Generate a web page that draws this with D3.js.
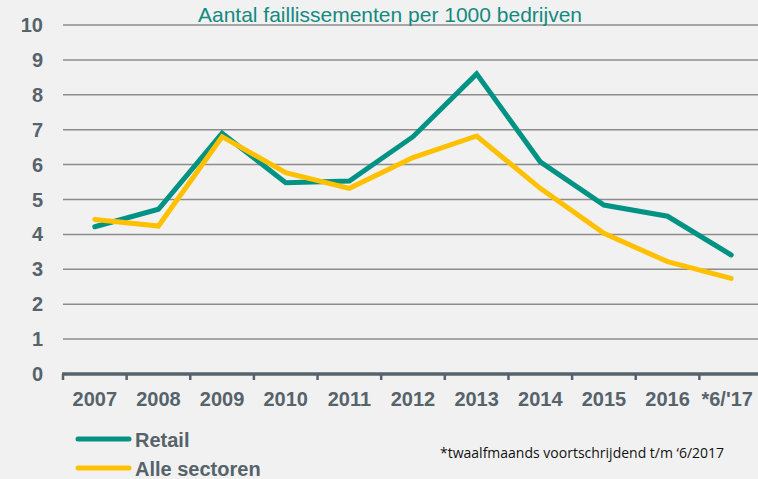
<!DOCTYPE html>
<html>
<head>
<meta charset="utf-8">
<script src="https://cdn.jsdelivr.net/npm/d3@7"></script>
<style>
  body { margin: 0; background: #f1f1f1; }
  svg { display: block; font-family: "Liberation Sans", Arial, sans-serif; }
</style>
</head>
<body>
<svg></svg>
<script>
var width = 758,
  height = 479;

// data
var years = ["2007", "2008", "2009", "2010", "2011", "2012", "2013", "2014", "2015", "2016", "*6/'17"];
var retail = [4.22, 4.72, 6.9, 5.48, 5.53, 6.8, 8.6, 6.08, 4.84, 4.52, 3.41];
var alleSectoren = [4.43, 4.24, 6.8, 5.77, 5.32, 6.2, 6.82, 5.32, 4.03, 3.22, 2.74];
var yTicks = [0, 1, 2, 3, 4, 5, 6, 7, 8, 9, 10];

var series = [
  { name: "Retail", values: retail, color: "#009384" },
  { name: "Alle sectoren", values: alleSectoren, color: "#ffc000" }
];

var svg = d3.select("svg")
  .attr("width", width)
  .attr("height", height);

svg.append("rect")
  .attr("width", width)
  .attr("height", height)
  .attr("fill", "#f1f1f1");

var x = d3.scaleBand()
  .domain(years)
  .range([63, 763]);

var y = d3.scaleLinear()
  .domain([0, 10])
  .range([374, 25]);

// gridlines
svg.append("g")
  .selectAll("line")
  .data(yTicks.filter(function(d) { return d > 0; }))
  .enter().append("line")
  .attr("x1", 63)
  .attr("x2", width)
  .attr("y1", function(d) { return y(d); })
  .attr("y2", function(d) { return y(d); })
  .attr("stroke", "#8c8c8c")
  .attr("stroke-width", 1.5);

// y labels
svg.append("g")
  .selectAll("text")
  .data(yTicks)
  .enter().append("text")
  .attr("x", 43)
  .attr("y", function(d) { return y(d) + 7; })
  .attr("text-anchor", "end")
  .attr("font-size", 20)
  .attr("font-weight", "bold")
  .attr("fill", "#56636b")
  .text(function(d) { return d; });

// x axis
var xAxis = svg.append("g");
xAxis.append("line")
  .attr("x1", 62)
  .attr("x2", width)
  .attr("y1", y(0))
  .attr("y2", y(0))
  .attr("stroke", "#56636b")
  .attr("stroke-width", 3.5);

xAxis.selectAll(".tick")
  .data(years)
  .enter().append("line")
  .attr("class", "tick")
  .attr("x1", function(d) { return x(d); })
  .attr("x2", function(d) { return x(d); })
  .attr("y1", y(0))
  .attr("y2", y(0) + 6)
  .attr("stroke", "#56636b")
  .attr("stroke-width", 2.5);

xAxis.selectAll("text")
  .data(years)
  .enter().append("text")
  .attr("x", function(d, i) { return x(d) + x.bandwidth() / 2 - (i === years.length - 1 ? 4 : 0); })
  .attr("y", 406)
  .attr("text-anchor", "middle")
  .attr("font-size", 20)
  .attr("font-weight", "bold")
  .attr("fill", "#56636b")
  .text(function(d) { return d; });

// lines
var line = d3.line()
  .x(function(d, i) { return x(years[i]) + x.bandwidth() / 2; })
  .y(function(d) { return y(d); });

svg.append("g")
  .selectAll("path")
  .data(series)
  .enter().append("path")
  .attr("d", function(d) { return line(d.values); })
  .attr("fill", "none")
  .attr("stroke", function(d) { return d.color; })
  .attr("stroke-width", 5)
  .attr("stroke-linejoin", "miter")
  .attr("stroke-linecap", "round");

// title
svg.append("text")
  .attr("x", 390)
  .attr("y", 22)
  .attr("text-anchor", "middle")
  .attr("font-size", 21)
  .attr("fill", "#138a80")
  .text("Aantal faillissementen per 1000 bedrijven");

// legend
var legend = svg.append("g")
  .selectAll("g")
  .data(series)
  .enter().append("g")
  .attr("transform", function(d, i) { return "translate(0," + (439 + i * 29) + ")"; });

legend.append("line")
  .attr("x1", 78)
  .attr("x2", 129)
  .attr("stroke", function(d) { return d.color; })
  .attr("stroke-width", 5)
  .attr("stroke-linecap", "round");

legend.append("text")
  .attr("x", 135)
  .attr("y", 7.5)
  .attr("font-size", 20)
  .attr("font-weight", "bold")
  .attr("fill", "#56636b")
  .text(function(d) { return d.name; });

// footnote
svg.append("text")
  .attr("x", 440)
  .attr("y", 458)
  .attr("font-family", "'Open Sans', sans-serif")
  .attr("font-size", 14)
  .attr("fill", "#111")
  .text("*twaalfmaands voortschrijdend t/m \u20186/2017");
</script>
</body>
</html>
